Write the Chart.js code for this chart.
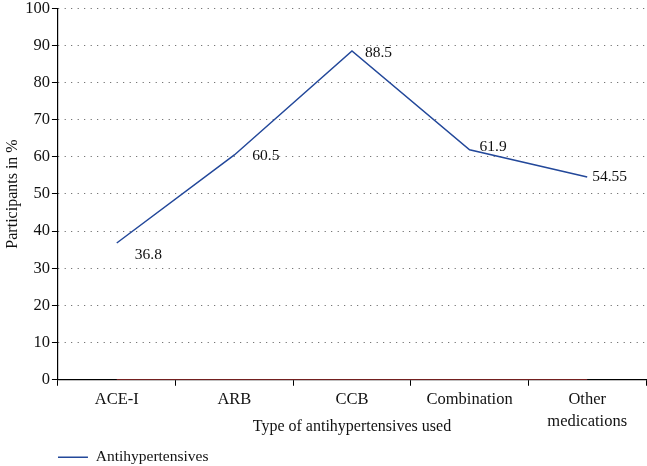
<!DOCTYPE html>
<html>
<head>
<meta charset="utf-8">
<script src="https://cdn.jsdelivr.net/npm/chart.js@4"></script>
<style>
  html, body { margin: 0; padding: 0; background: #fff; }
  #wrap { width: 647px; height: 466px; }
</style>
</head>
<body>
<div id="wrap"><canvas id="chart"></canvas></div>
<script>
const categories = ["ACE-I", "ARB", "CCB", "Combination", ["Other", "medications"]];
const antihypertensives = [36.8, 60.5, 88.5, 61.9, 54.55];
const baseline = [0, 0, 0, 0, 0];
const valueLabels = ["36.8", "60.5", "88.5", "61.9", "54.55"];
const yTicks = [0, 10, 20, 30, 40, 50, 60, 70, 80, 90, 100];

const serif = "'Liberation Serif', 'DejaVu Serif', serif";
const blue = "#23489a";

// offsets of the value labels from their points
const labelDx = [18, 18, 13, 10, 5];
const labelDy = [12, 1, 2, -3, 0];

const valueLabelPlugin = {
    id: "valueLabels",
    afterDatasetsDraw(chart) {
        const meta = chart.getDatasetMeta(0);
        const ctx = chart.ctx;
        ctx.save();
        ctx.font = "15.5px " + serif;
        ctx.fillStyle = "#111";
        ctx.textAlign = "left";
        ctx.textBaseline = "middle";
        meta.data.forEach((pt, i) => {
            ctx.fillText(valueLabels[i], pt.x + labelDx[i], pt.y + labelDy[i]);
        });
        ctx.restore();
    }
};

const ctx = document.getElementById("chart").getContext("2d");
const chart = new Chart(ctx, {
    type: "line",
    data: {
        labels: categories,
        datasets: [{
            label: "Antihypertensives",
            data: antihypertensives,
            borderColor: blue,
            backgroundColor: blue,
            borderWidth: 1.5,
            pointRadius: 0,
            tension: 0
        }, {
            label: "zero",
            data: baseline,
            borderColor: "#9a2a2a",
            borderWidth: 1.5,
            pointRadius: 0
        }]
    },
    options: {
        responsive: true,
        maintainAspectRatio: false,
        animation: false,
        layout: { padding: { top: 0, right: 1, left: 0, bottom: -9 } },
        plugins: {
            tooltip: { enabled: false },
            legend: {
                position: "bottom",
                align: "start",
                fullSize: false,
                labels: {
                    boxWidth: 30,
                    boxHeight: 0,
                    padding: 0,
                    color: "#111",
                    font: { family: serif, size: 15.5 },
                    filter: item => item.datasetIndex === 0
                }
            }
        },
        scales: {
            x: {
                offset: true,
                border: { color: "#000", width: 1.2 },
                grid: {
                    offset: true,
                    drawOnChartArea: false,
                    tickLength: 6,
                    tickColor: "#000"
                },
                ticks: {
                    color: "#111",
                    font: { family: serif, size: 16.5, lineHeight: 1.35 },
                    maxRotation: 0,
                    autoSkip: false,
                    padding: 3
                },
                title: {
                    display: true,
                    text: "Type of antihypertensives used",
                    color: "#111",
                    font: { family: serif, size: 16, lineHeight: 1.2 },
                    padding: { top: -19, bottom: 13 }
                }
            },
            y: {
                min: 0,
                max: 100,
                border: { color: "#000", width: 1.2, dash: [1, 5.5] },
                grid: {
                    color: "#555",
                    lineWidth: 1,
                    tickBorderDash: [],
                    tickColor: "#000",
                    tickLength: 6
                },
                afterBuildTicks: axis => {
                    axis.ticks = yTicks.map(v => ({ value: v }));
                },
                ticks: {
                    color: "#111",
                    font: { family: serif, size: 16.5, lineHeight: 0.75 },
                    padding: 2
                },
                title: {
                    display: true,
                    text: "Participants in %",
                    color: "#111",
                    font: { family: serif, size: 16 },
                    padding: { top: 3, bottom: 1 }
                }
            }
        }
    },
    plugins: [valueLabelPlugin]
});
</script>
</body>
</html>
